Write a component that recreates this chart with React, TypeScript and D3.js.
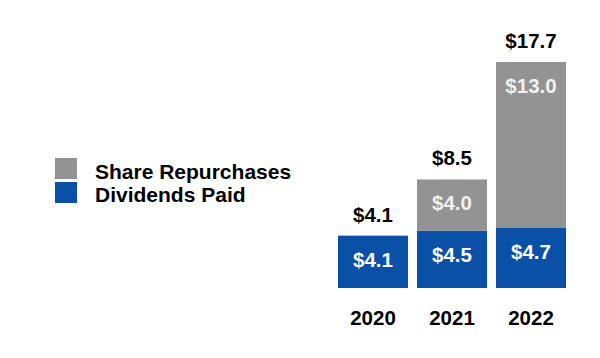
import React from "react";
import * as d3 from "d3";

const years = ["2020", "2021", "2022"];
const dividends = [4.1, 4.5, 4.7];
const repurchases = [0, 4.0, 13.0];
const totals = [4.1, 8.5, 17.7];
const seriesNames = ["Share Repurchases", "Dividends Paid"];

const BLUE = "#0A50A6";
const GRAY = "#939393";
const FONT = "'Liberation Sans', Arial, sans-serif";

export default function App() {
  const W = 600, H = 358;
  const x = d3.scaleBand().domain(years).range([338, 566]).paddingInner(9 / 79).paddingOuter(0);
  const y = d3.scaleLinear().domain([0, 17.7]).range([288, 62]);
  const fmt = (v: number) => "$" + d3.format(".1f")(v);
  const data = years.map((yr, i) => ({ yr, div: dividends[i], rep: repurchases[i], total: totals[i] }));
  const stack = d3.stack<any>().keys(["div", "rep"])(data as any);
  const colors = [BLUE, GRAY];
  const labelColors = ["#ffffff", "#f0f0f0"];

  return (
    <svg width={W} height={H} style={{ position: "absolute", left: 0, top: 0, background: "#fff" }} fontFamily={FONT}>
      {stack.map((layer, li) =>
        layer.map((d: any, i: number) => {
          const v = d[1] - d[0];
          if (v <= 0) return null;
          const top = y(d[1]);
          return (
            <g key={`${li}-${i}`}>
              <rect x={x(years[i])} y={top} width={x.bandwidth()} height={y(d[0]) - top} fill={colors[li]} />
              <text x={(x(years[i]) as number) + x.bandwidth() / 2} y={top + 31} textAnchor="middle" fontSize={20.5} fontWeight="bold" fill={labelColors[li]}>
                {fmt(v)}
              </text>
            </g>
          );
        })
      )}
      {data.map((d, i) => (
        <text key={"t" + i} x={(x(d.yr) as number) + x.bandwidth() / 2} y={y(d.total) - 14} textAnchor="middle" fontSize={20.5} fontWeight="bold" fill="#000">
          {fmt(d.total)}
        </text>
      ))}
      {data.map((d, i) => (
        <text key={"y" + i} x={(x(d.yr) as number) + x.bandwidth() / 2} y={325} textAnchor="middle" fontSize={20.5} fontWeight="bold" fill="#000">
          {d.yr}
        </text>
      ))}
      {seriesNames.map((n, i) => (
        <g key={n}>
          <rect x={55} y={158 + i * 24} width={22} height={21} fill={i === 0 ? GRAY : BLUE} />
          <text x={95} y={179 + i * 23} fontSize={21} fontWeight="bold" fill="#000">{n}</text>
        </g>
      ))}
    </svg>
  );
}
